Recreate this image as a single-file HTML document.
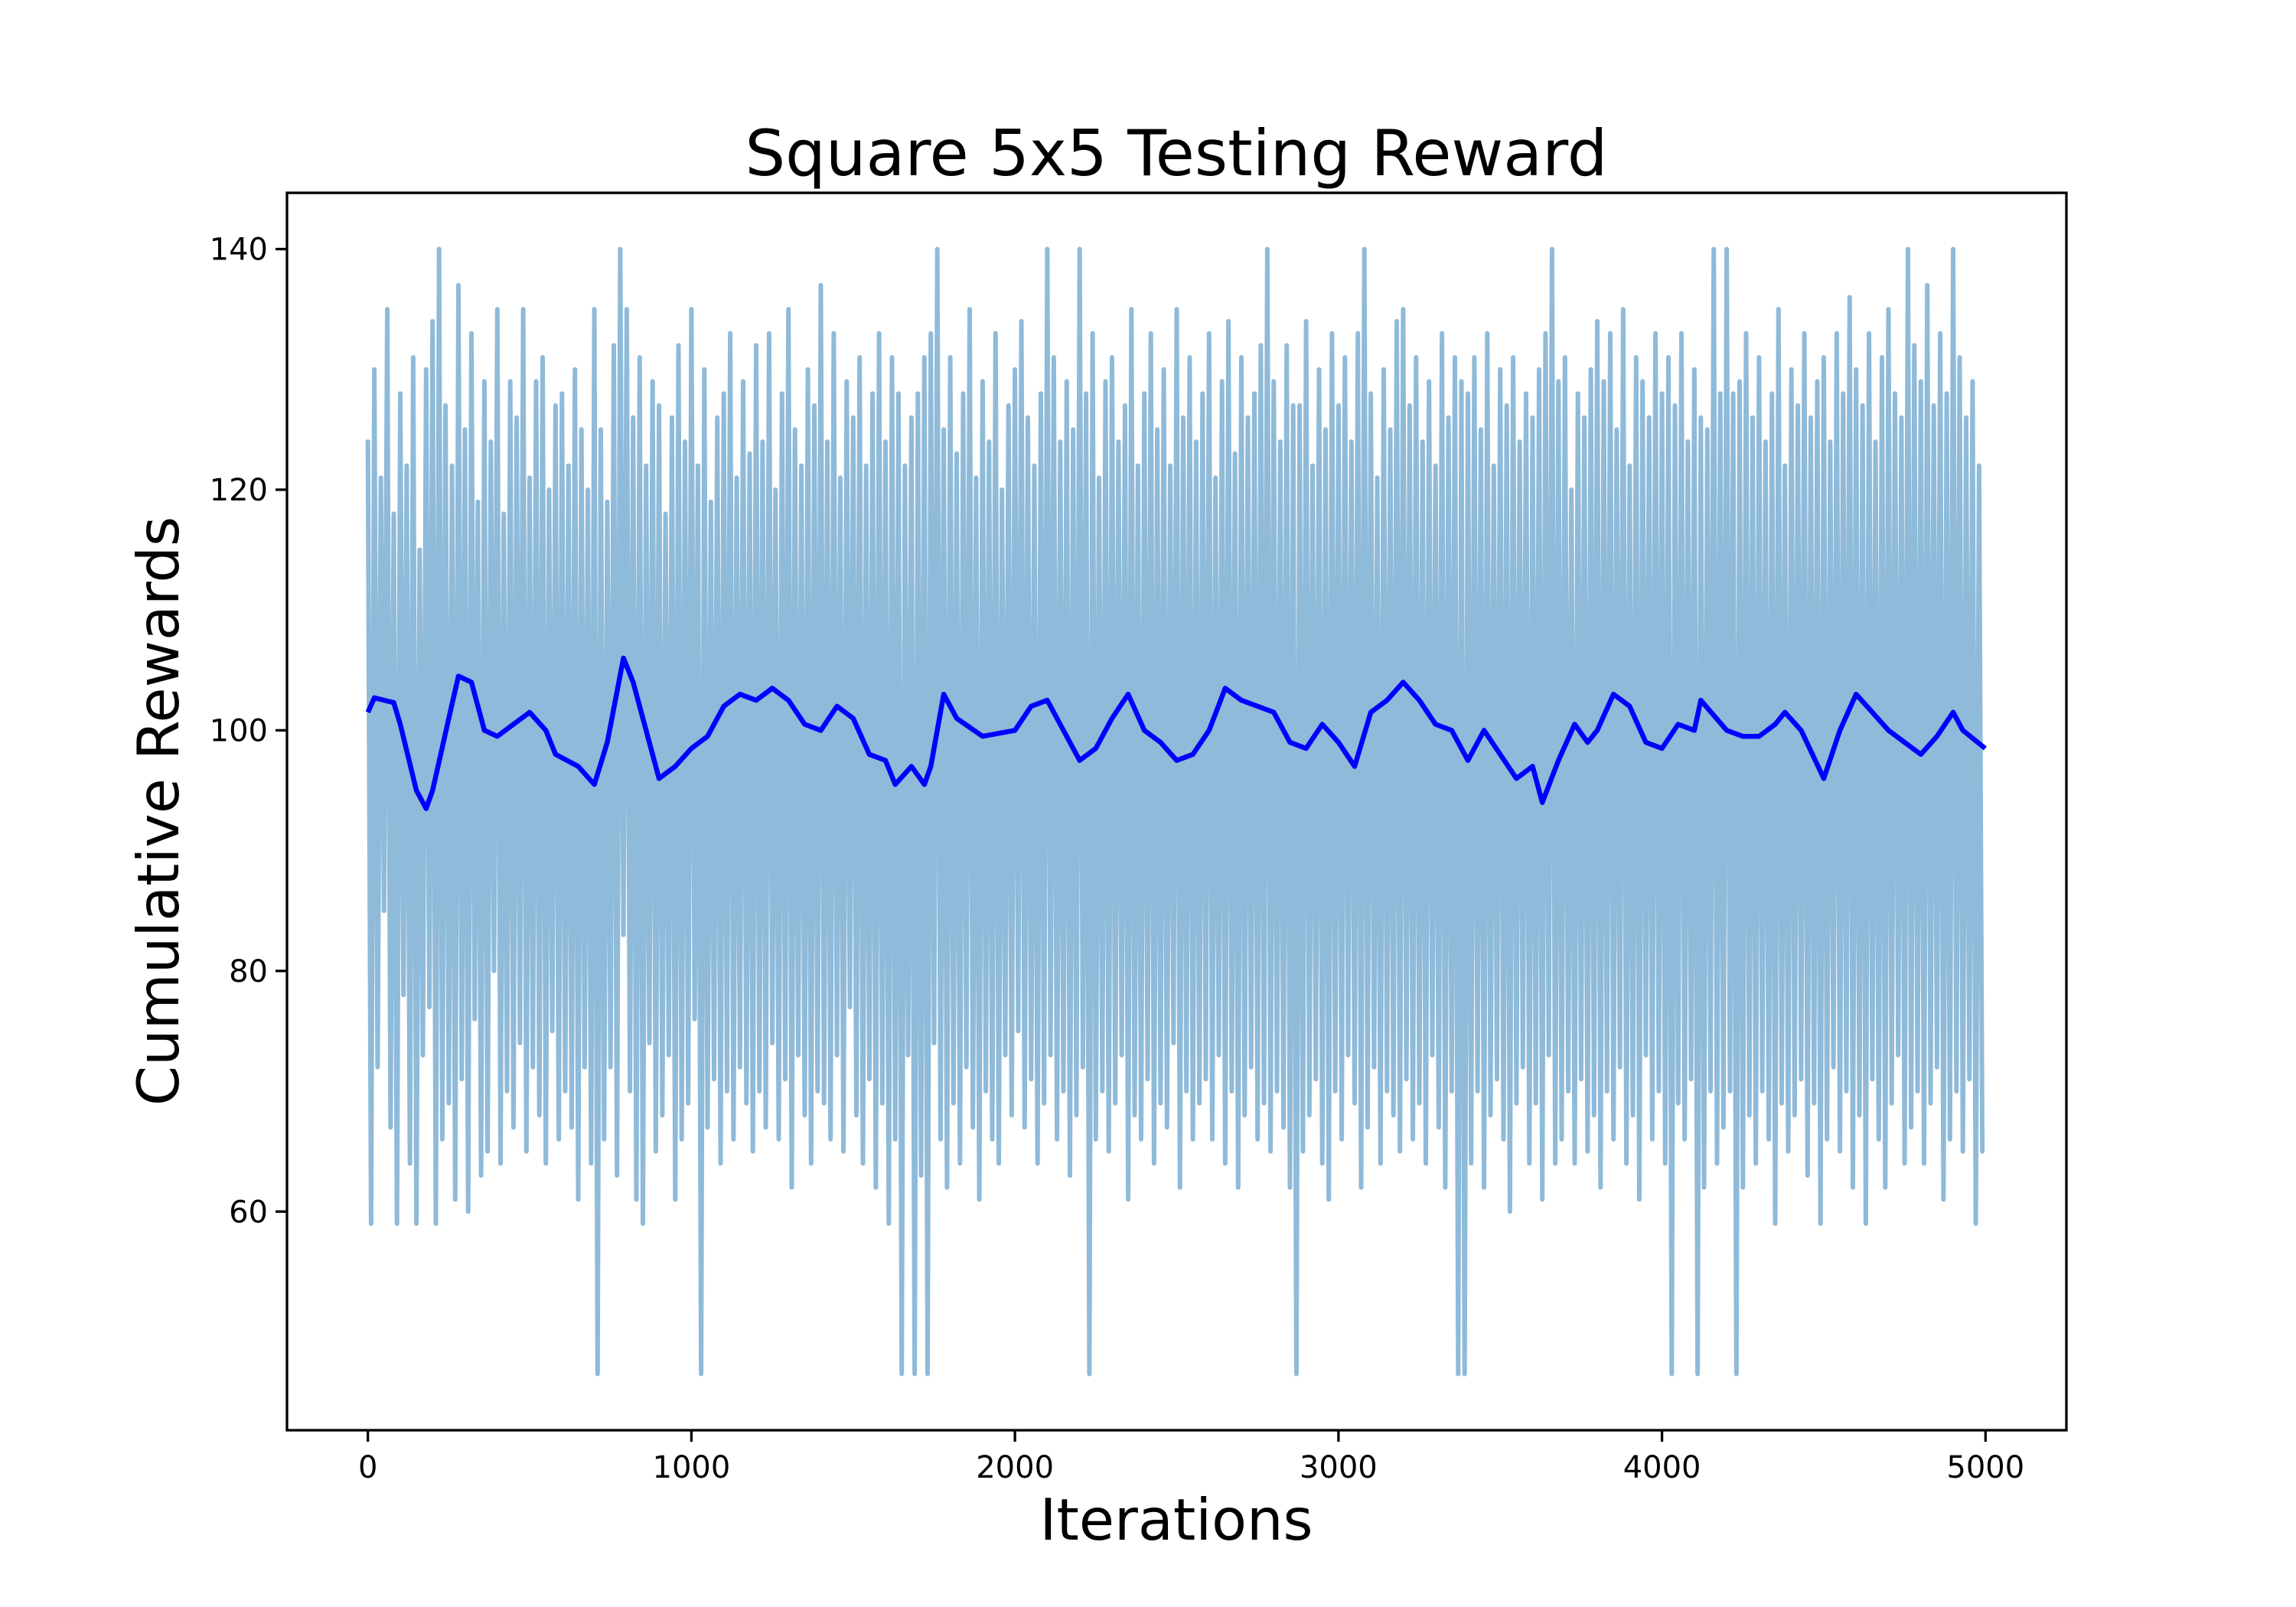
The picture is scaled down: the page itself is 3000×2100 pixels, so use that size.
<!DOCTYPE html>
<html><head><meta charset="utf-8"><style>
html,body{margin:0;padding:0;background:#fff;}
svg{display:block;font-family:"DejaVu Sans","Liberation Sans",sans-serif;}
</style></head><body>
<svg id="chart" width="3000" height="2100" viewBox="0 0 3000 2100" xmlns="http://www.w3.org/2000/svg">
<rect width="3000" height="2100" fill="#fff"/>
<g id="plot"></g>
<rect x="375" y="252" width="2325" height="1617" fill="none" stroke="#000" stroke-width="3.3"/>
<g id="xt"></g>
<g id="yt"></g>
<text x="1537" y="229" font-size="83" text-anchor="middle">Square 5x5 Testing Reward</text>
<text x="1537" y="2012" font-size="75" text-anchor="middle">Iterations</text>
<text x="0" y="0" font-size="75" text-anchor="middle" transform="translate(233,1060) rotate(-90)">Cumulative Rewards</text>
</svg>
<script>
const rawStep = 10;
const rawValues = [
124,59,130,72,121,85,135,67,118,59,128,78,122,64,131,59,115,73,130,77,
134,59,140,66,127,69,122,61,137,71,125,60,133,76,119,63,129,65,124,80,
135,64,118,70,129,67,126,74,135,65,121,72,129,68,131,64,120,75,127,66,
128,70,122,67,130,61,125,72,120,64,135,46.5,125,66,119,72,132,63,140,83,
135,70,126,61,131,59,122,74,129,65,127,68,118,73,126,61,132,66,124,69,
135,76,122,46.5,130,67,119,71,126,64,128,70,133,66,121,72,129,69,123,65,
132,70,124,67,133,74,120,66,128,71,135,62,125,73,122,68,130,64,127,70,
137,69,124,66,133,73,121,65,129,77,126,68,131,64,122,71,128,62,133,69,
124,59,131,66,128,46.5,122,73,126,46.5,128,63,131,46.5,133,74,140,66,125,62,
131,69,123,64,128,72,135,67,121,61,129,70,124,66,133,64,120,73,127,68,
130,75,134,67,126,71,122,64,128,69,140,73,131,66,124,70,129,63,125,68,
140,72,128,46.5,133,66,121,70,129,65,131,69,124,73,127,61,135,68,122,66,
128,71,133,64,125,69,130,67,122,74,135,62,126,70,131,66,124,69,128,71,
133,66,121,73,129,64,134,70,123,62,131,68,126,72,128,66,132,69,140,65,
129,70,124,67,132,62,127,46.5,127,65,134,68,122,71,130,64,125,61,133,70,
127,66,131,73,124,69,133,62,140,67,128,72,121,64,130,70,125,68,134,65,
135,71,127,66,131,69,124,64,129,73,122,67,133,62,126,70,131,46.5,129,46.5,
128,64,131,70,125,62,133,68,122,71,130,66,127,60,131,69,124,72,128,64,
126,69,130,61,133,73,140,64,129,66,131,70,120,64,128,71,126,65,130,68,
134,62,129,70,133,66,125,72,135,64,122,68,131,61,129,73,126,66,133,70,
128,64,131,46.5,127,69,133,66,124,71,130,46.5,126,62,125,70,140,64,128,67,
140,70,128,46.5,129,62,133,68,126,64,131,70,124,66,128,59,135,69,122,65,
130,68,127,71,133,63,126,69,129,59,131,66,124,72,133,65,128,70,136,62,
130,68,127,59,133,71,124,66,131,62,135,69,128,73,126,64,140,67,132,70,
129,64,137,69,127,72,133,61,128,66,140,70,131,65,126,71,129,59,122,65
];
const avgIter = [0,20,80,100,150,180,200,250,280,320,360,400,450,500,550,580,650,700,740,790,820,860,900,950,1000,1050,1100,1150,1200,1250,1300,1350,1400,1450,1500,1550,1600,1630,1680,1720,1740,1780,1820,1900,2000,2050,2100,2150,2200,2250,2300,2350,2400,2450,2500,2550,2600,2650,2700,2750,2800,2850,2900,2950,3000,3050,3100,3150,3200,3250,3300,3350,3400,3450,3500,3550,3600,3630,3680,3730,3770,3800,3850,3900,3950,4000,4050,4100,4120,4200,4250,4300,4350,4380,4430,4500,4550,4600,4650,4700,4750,4800,4850,4900,4930,4999];
const avgValues = [101.5,102.7,102.3,100.5,95,93.5,95,101,104.5,104,100,99.5,100.5,101.5,100,98,97,95.5,99,106,104,100,96,97,98.5,99.5,102,103,102.5,103.5,102.5,100.5,100,102,101,98,97.5,95.5,97,95.5,97,103,101,99.5,100,102,102.5,100,97.5,98.5,101,103,100,99,97.5,98,100,103.5,102.5,102,101.5,99,98.5,100.5,99,97,101.5,102.5,104,102.5,100.5,100,97.5,100,98,96,97,94,97.5,100.5,99,100,103,102,99,98.5,100.5,100,102.5,100,99.5,99.5,100.5,101.5,100,96,100,103,101.5,100,99,98,99.5,101.5,100,98.5];
const xTicks = [0,1000,2000,3000,4000,5000];
const yTicks = [60,80,100,120,140];

const X0=375,X1=2700,Y0=252,Y1=1869;
const xmin=-250,xmax=5250,ymin=41.825,ymax=144.675;
const sx=v=>X0+(v-xmin)/(xmax-xmin)*(X1-X0);
const sy=v=>Y0+(ymax-v)/(ymax-ymin)*(Y1-Y0);
const NS="http://www.w3.org/2000/svg";
const plot=document.getElementById('plot');
let d=rawValues.map((v,i)=>(i?'L':'M')+sx(i*rawStep).toFixed(1)+' '+sy(v).toFixed(1)).join('');
const p1=document.createElementNS(NS,'path');
p1.setAttribute('d',d);p1.setAttribute('fill','none');p1.setAttribute('stroke','#8fbad9');p1.setAttribute('stroke-width','6');p1.setAttribute('stroke-linejoin','round');p1.setAttribute('stroke-linecap','round');


plot.appendChild(p1);
let d2=avgValues.map((v,i)=>(i?'L':'M')+sx(avgIter[i]).toFixed(1)+' '+sy(v).toFixed(1)).join('');
const p2=document.createElementNS(NS,'path');
p2.setAttribute('d',d2);p2.setAttribute('fill','none');p2.setAttribute('stroke','#0000ff');p2.setAttribute('stroke-width','6.5');p2.setAttribute('stroke-linejoin','round');


plot.appendChild(p2);
const xt=document.getElementById('xt');
xTicks.forEach(t=>{
 const l=document.createElementNS(NS,'line');
 l.setAttribute('x1',sx(t));l.setAttribute('x2',sx(t));l.setAttribute('y1',Y1);l.setAttribute('y2',Y1+15);l.setAttribute('stroke','#000');l.setAttribute('stroke-width','3.3');
 
 
 xt.appendChild(l);
 const tx=document.createElementNS(NS,'text');
 tx.setAttribute('x',sx(t));tx.setAttribute('y',Y1+62);tx.setAttribute('font-size','40');tx.setAttribute('text-anchor','middle');tx.textContent=t;
 
 
 xt.appendChild(tx);
});
const yt=document.getElementById('yt');
yTicks.forEach(t=>{
 const l=document.createElementNS(NS,'line');
 l.setAttribute('x1',X0-15);l.setAttribute('x2',X0);l.setAttribute('y1',sy(t));l.setAttribute('y2',sy(t));l.setAttribute('stroke','#000');l.setAttribute('stroke-width','3.3');
 
 
 yt.appendChild(l);
 const tx=document.createElementNS(NS,'text');
 tx.setAttribute('x',X0-25);tx.setAttribute('y',sy(t)+14);tx.setAttribute('font-size','40');tx.setAttribute('text-anchor','end');tx.textContent=t;
 
 
 yt.appendChild(tx);
});
</script>
</body></html>
